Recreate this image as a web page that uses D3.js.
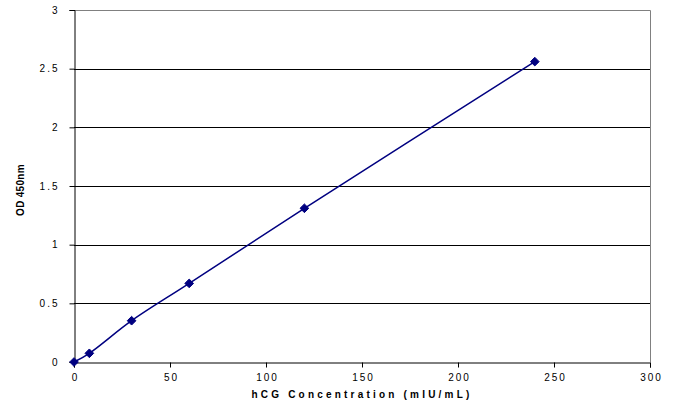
<!DOCTYPE html>
<html><head><meta charset="utf-8">
<script src="https://cdn.jsdelivr.net/npm/d3@7"></script>
<style>body{margin:0;background:#fff}svg{display:block}</style>
</head><body><svg id="c" width="676" height="409"></svg>
<script>
const concentration = [0, 8, 30, 60, 120, 240];
const od450 = [0, 0.074, 0.352, 0.67, 1.31, 2.56];
const xTicks = [0, 50, 100, 150, 200, 250, 300];
const yTicks = [0, 0.5, 1, 1.5, 2, 2.5, 3];
const xTitle = "hCG Concentration (mIU/mL)";
const yTitle = "OD 450nm";

const svg = d3.select("#c");
const m = {l:74, r:26, t:10, b:47};
const W = 676, H = 409;
const x = d3.scaleLinear().domain([0,300]).range([m.l, W-m.r]);
const y = d3.scaleLinear().domain([0,3]).range([H-m.b, m.t]);
const font = "'Liberation Sans', Arial, sans-serif";

// gridlines
svg.append("g").selectAll("line").data(yTicks.filter(d=>d>0 && d<3)).join("line")
  .attr("x1", x(0)).attr("x2", x(300)).attr("y1", d=>Math.round(y(d))+0.5).attr("y2", d=>Math.round(y(d))+0.5)
  .attr("stroke","#000").attr("stroke-width",1);
// top and right border (gray)
svg.append("path").attr("d", `M${x(0)},${Math.round(y(3))+0.5}H${x(300)+0.5}V${y(0)}`)
  .attr("fill","none").attr("stroke","#808080").attr("stroke-width",1);

// axes
const yAxis = svg.append("g").attr("transform",`translate(${x(0)+0.5},0)`)
  .call(d3.axisLeft(y).tickValues(yTicks).tickSize(5).tickPadding(10).tickFormat(d=>String(d)));
const xAxis = svg.append("g").attr("transform",`translate(0,${Math.round(y(0))+0.5})`)
  .call(d3.axisBottom(x).tickValues(xTicks).tickSize(5).tickPadding(6).tickFormat(d=>String(d)));
[yAxis,xAxis].forEach(a=>{
  a.select(".domain").attr("stroke","#000").attr("stroke-width",1);
  a.selectAll(".tick line").attr("stroke","#000");
  a.selectAll(".tick text").attr("font-family",font).attr("font-size",10).attr("fill","#000")
    .attr("letter-spacing","2px");
});
xAxis.selectAll(".tick text").attr("dx","1px");

// line
const line = d3.line().x((d,i)=>x(concentration[i])).y(d=>y(d)).curve(d3.curveCatmullRom.alpha(0.5));
svg.append("path").datum(od450).attr("d", line).attr("fill","none")
  .attr("stroke","#000080").attr("stroke-width",1.5);
// markers
svg.append("g").selectAll("path").data(od450).join("path")
  .attr("transform",(d,i)=>`translate(${x(concentration[i])},${y(d)})`)
  .attr("d", d3.symbol(d3.symbolDiamond2, 48))
  .attr("fill","#000080").attr("stroke","#000080").attr("stroke-width",1);

// titles
svg.append("text").attr("x", (x(0)+x(300))/2).attr("y", 398).attr("text-anchor","middle")
  .attr("font-family",font).attr("font-size",10).attr("font-weight","bold").attr("letter-spacing","3.2px")
  .text(xTitle);
svg.append("text").attr("transform",`translate(24,${(y(0)+y(3))/2+4}) rotate(-90)`).attr("text-anchor","middle")
  .attr("font-family",font).attr("font-size",10).attr("font-weight","bold").attr("letter-spacing","0.3px")
  .text(yTitle);
</script></body></html>
